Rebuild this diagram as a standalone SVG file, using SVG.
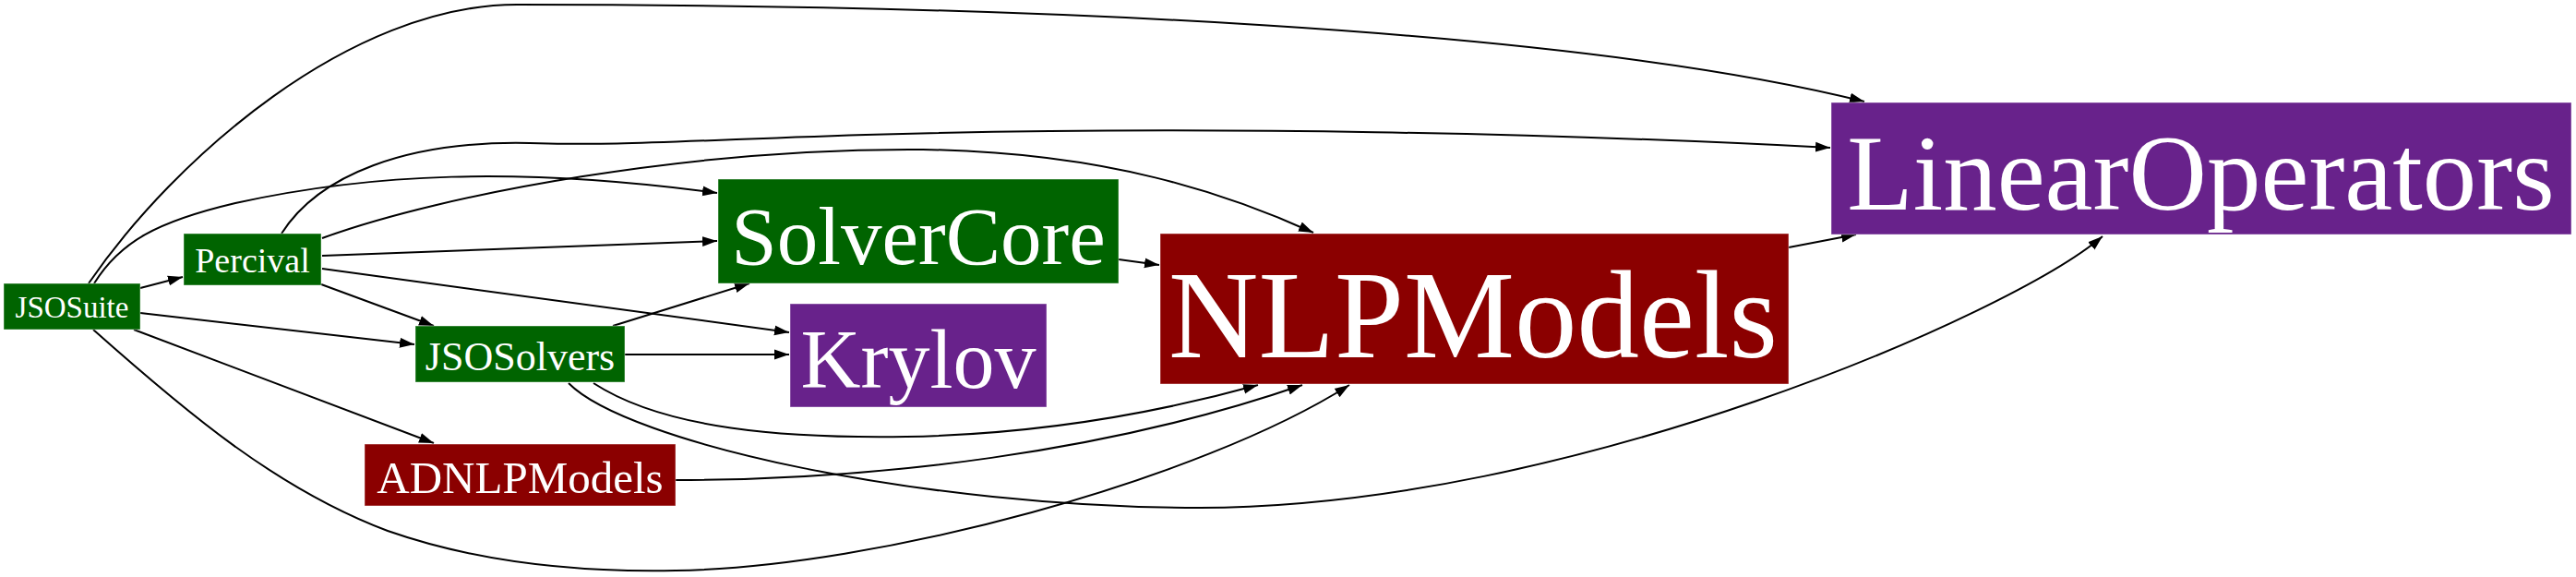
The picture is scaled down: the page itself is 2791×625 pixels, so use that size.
<svg xmlns="http://www.w3.org/2000/svg" width="2791" height="625" viewBox="0 0 2791 625">
<style>
.g rect{fill:#006400}
.r rect{fill:#8B0000}
.p rect{fill:#68228B}
.n rect{stroke:#ffffff;stroke-opacity:0.45;stroke-width:1}
.n text{font-family:"Liberation Serif","Times New Roman",serif;fill:#ffffff;text-anchor:middle}
#edges path{fill:none;stroke:#000000;stroke-width:2;marker-end:url(#arr)}
</style>
<defs>
<marker id="arr" markerUnits="userSpaceOnUse" markerWidth="17" markerHeight="12" refX="16" refY="6" orient="auto">
<path d="M0,0.5 L16,6 L0,11.5 z" fill="#000000"/>
</marker>
</defs>
<rect width="2791" height="625" fill="#ffffff"/>
<g id="edges">
<path d="M96,307 C190,170 380,5 560,5 C1100,5 1700,30 2020,110"/>
<path d="M102,307 C130,262 170,240 255,220 C400,188 560,180 777,209"/>
<path d="M152,312 L198,300"/>
<path d="M152,339 L449,373"/>
<path d="M145,357 L470,480"/>
<path d="M101,357 C200,445 300,530 420,575 C520,610 630,620 732,618 C950,615 1300,520 1462,417"/>
<path d="M305,253 C345,190 440,152 574,155 C680,158 720,153 938,146 C1300,135 1700,145 1983,160"/>
<path d="M349,258 C480,210 750,160 1000,162 C1200,165 1330,210 1423,252"/>
<path d="M349,277 L777,261"/>
<path d="M349,291 L855,360"/>
<path d="M348,308 L470,353"/>
<path d="M664,353 L812,307"/>
<path d="M677,384 L855,384"/>
<path d="M643,415 C720,465 850,475 982,473 C1150,470 1280,440 1363,417"/>
<path d="M616,415 C680,480 1000,550 1300,550 C1700,550 2180,340 2278,256"/>
<path d="M732,520 C950,520 1200,490 1411,417"/>
<path d="M1212,281 L1256,287"/>
<path d="M1938,268 L2011,254"/>
</g>
<g id="JSOSuite" class="n g"><rect x="4" y="307" width="148" height="50"/><text x="78" y="344" font-size="33">JSOSuite</text></g>
<g id="Percival" class="n g"><rect x="199" y="253" width="149" height="56"/><text x="273.5" y="295" font-size="38">Percival</text></g>
<g id="JSOSolvers" class="n g"><rect x="450" y="353" width="227" height="61"/><text x="563.5" y="401" font-size="44">JSOSolvers</text></g>
<g id="ADNLPModels" class="n r"><rect x="395" y="481" width="337" height="67"/><text x="563.5" y="534" font-size="49">ADNLPModels</text></g>
<g id="SolverCore" class="n g"><rect x="778" y="194" width="434" height="113"/><text x="995" y="286" font-size="89">SolverCore</text></g>
<g id="Krylov" class="n p"><rect x="856" y="329" width="278" height="112"/><text x="995" y="420" font-size="90">Krylov</text></g>
<g id="NLPModels" class="n r"><rect x="1257" y="253" width="681" height="163"/><text x="1596" y="387" font-size="135">NLPModels</text></g>
<g id="LinearOperators" class="n p"><rect x="1984" y="111" width="802" height="143"/><text x="2384.5" y="227" font-size="117">LinearOperators</text></g>
</svg>
